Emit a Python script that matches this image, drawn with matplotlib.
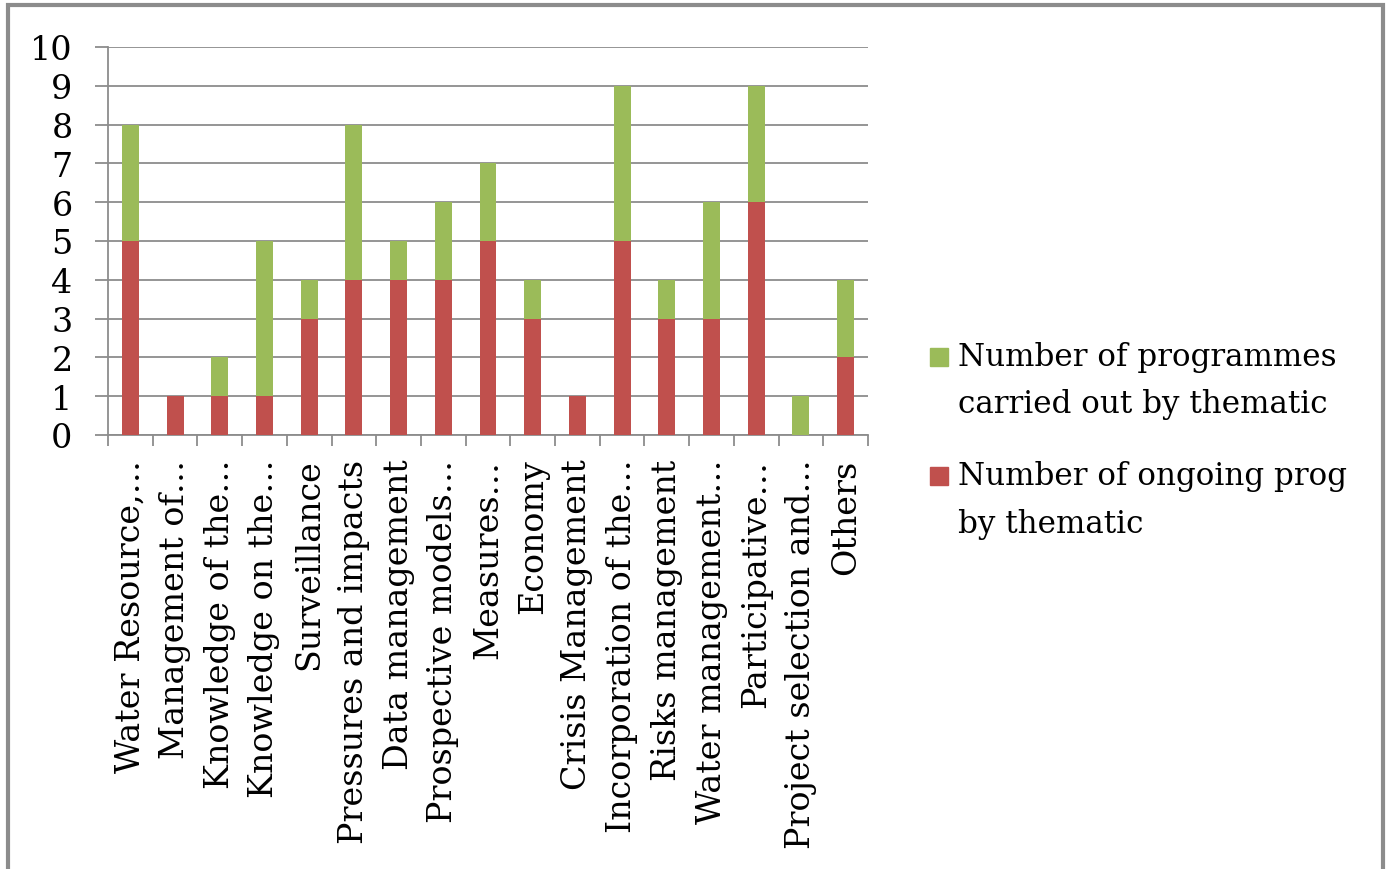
import matplotlib
matplotlib.use("Agg")
import matplotlib.pyplot as plt
from matplotlib.patches import Rectangle
import numpy as np

categories = ["Water Resource,…", "Management of…", "Knowledge of the…", "Knowledge on the…",
              "Surveillance", "Pressures and impacts", "Data management", "Prospective models…",
              "Measures…", "Economy", "Crisis Management", "Incorporation of the…",
              "Risks management", "Water management…", "Participative…",
              "Project selection and…", "Others"]
ongoing = [5, 1, 1, 1, 3, 4, 4, 4, 5, 3, 1, 5, 3, 3, 6, 0, 2]
carried_out = [3, 0, 1, 4, 1, 4, 1, 2, 2, 1, 0, 4, 1, 3, 3, 1, 2]
yticks = list(range(0, 11))

label_ongoing = "Number of ongoing prog\nby thematic"
label_carried = "Number of programmes\ncarried out by thematic"

RED = "#C0504D"
GREEN = "#9BBB59"
GRID = "#8C8C8C"

plt.rcParams['font.family'] = ['DejaVu Serif']

W, H = 1389, 870
fig = plt.figure(figsize=(W/100, H/100), dpi=100)
ax = fig.add_axes([108/W, 1-436/H, 760/W, 388/H])

x = np.arange(len(categories))
w = 0.38
ax.bar(x, ongoing, width=w, color=RED, zorder=3)
ax.bar(x, carried_out, width=w, bottom=ongoing, color=GREEN, zorder=3)

ax.set_xlim(-0.5, len(categories) - 0.5)
ax.set_ylim(0, 10)
ax.set_yticks(yticks)
ax.set_yticklabels([str(v) for v in yticks], fontsize=24)
ax.yaxis.grid(True, color=GRID, linewidth=1.3, zorder=0)
ax.tick_params(axis='y', length=9.5, width=1.3, color=GRID, pad=16)

ax.set_xticks(x)
ax.set_xticklabels(categories, rotation=90, fontsize=24, va='top', ha='center')
ax.set_xticks(np.arange(-0.5, len(categories), 1.0), minor=True)
ax.tick_params(axis='x', which='major', length=0, pad=17)
ax.tick_params(axis='x', which='minor', length=8, width=1.3, color=GRID)

for s in ['top', 'right']:
    ax.spines[s].set_visible(False)
for s in ['left', 'bottom']:
    ax.spines[s].set_color(GRID)
    ax.spines[s].set_linewidth(1.3)

# legend drawn manually (green entry first, as in reference)
entries = [(GREEN, label_carried, 358), (RED, label_ongoing, 477)]
for color, label, ytop in entries:
    fig.patches.append(Rectangle((930/W, 1-(ytop+9)/H), 18/W, 18/H,
                                 transform=fig.transFigure, color=color))
    for i, line in enumerate(label.split("\n")):
        fig.text(958/W, 1-(ytop + i*47)/H, line, fontsize=22.3, va='center', ha='left')

border = Rectangle((8/W, -0.05), (1383-8)/W, 1.05 - 6/H, transform=fig.transFigure,
                   fill=False, edgecolor=GRID, linewidth=3)
fig.patches.append(border)

fig.savefig("out.png", dpi=100)
